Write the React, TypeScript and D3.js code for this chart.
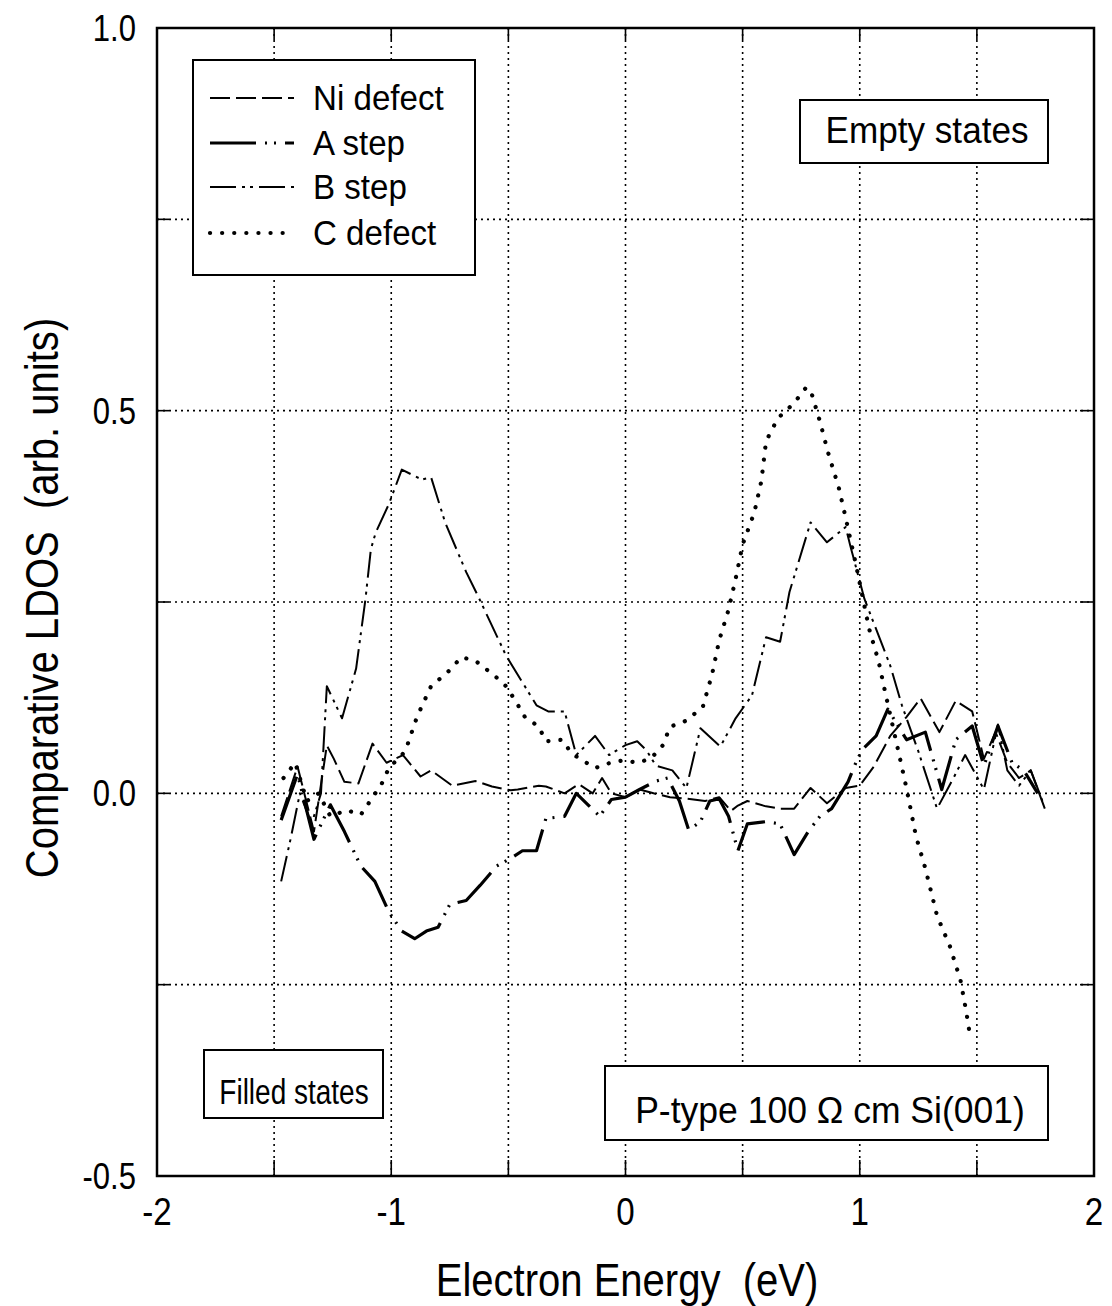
import React from "react";
import * as d3 from "d3";

// ---------- data ----------
const niX = [-1.47, -1.40, -1.33, -1.275, -1.245, -1.2, -1.14, -1.08, -1.02, -0.95, -0.875, -0.83, -0.74, -0.64, -0.57, -0.49, -0.46, -0.37, -0.34, -0.26, -0.2, -0.14, -0.1, -0.06, 0.0, 0.06, 0.12, 0.19, 0.26, 0.34, 0.4, 0.45, 0.48, 0.52, 0.6, 0.66, 0.72, 0.79, 0.86, 0.94, 1.0, 1.06, 1.13, 1.2, 1.26, 1.34, 1.41, 1.48, 1.53, 1.58, 1.63, 1.68, 1.73, 1.79];
const niY = [-0.03, 0.035, -0.05, 0.0625, 0.045, 0.015, 0.013, 0.065, 0.04, 0.05, 0.022, 0.03, 0.01, 0.016, 0.009, 0.004, 0.005, 0.01, 0.009, 0.0, 0.012, 0.0, 0.02, 0.0, -0.005, 0.005, 0.0, -0.005, -0.007, -0.01, -0.005, -0.023, -0.016, -0.01, -0.017, -0.02, -0.02, 0.007, -0.013, 0.007, 0.01, 0.035, 0.075, 0.1, 0.124, 0.08, 0.121, 0.107, 0.045, 0.08, 0.04, 0.02, 0.03, -0.02];

const aX = [-1.47, -1.40, -1.33, -1.26, -1.2, -1.13, -1.07, -1.01, -0.955, -0.9, -0.85, -0.8, -0.75, -0.68, -0.62, -0.55, -0.49, -0.44, -0.38, -0.34, -0.26, -0.21, -0.16, -0.11, -0.06, 0.0, 0.06, 0.13, 0.18, 0.23, 0.27, 0.32, 0.36, 0.4, 0.44, 0.48, 0.52, 0.6, 0.66, 0.72, 0.78, 0.83, 0.88, 0.95, 0.99, 1.02, 1.07, 1.12, 1.2, 1.28, 1.35, 1.41, 1.48, 1.53, 1.59, 1.65, 1.7, 1.76];
const aY = [-0.035, 0.025, -0.06, -0.015, -0.05, -0.095, -0.115, -0.155, -0.18, -0.19, -0.18, -0.175, -0.145, -0.14, -0.12, -0.095, -0.085, -0.075, -0.075, -0.033, -0.03, 0.0, -0.015, -0.03, -0.008, -0.005, 0.005, 0.016, 0.02, -0.01, -0.048, -0.037, -0.01, -0.007, -0.03, -0.075, -0.04, -0.037, -0.04, -0.08, -0.05, -0.03, -0.02, 0.015, 0.045, 0.06, 0.075, 0.11, 0.07, 0.08, 0.005, 0.07, 0.088, 0.036, 0.088, 0.04, 0.03, 0.0];

const bX = [-1.47, -1.43, -1.39, -1.34, -1.3, -1.275, -1.21, -1.15, -1.11, -1.087, -1.066, -1.01, -0.955, -0.87, -0.83, -0.77, -0.68, -0.63, -0.51, -0.38, -0.33, -0.26, -0.21, -0.13, -0.07, 0.0, 0.05, 0.09, 0.13, 0.2, 0.26, 0.32, 0.405, 0.47, 0.54, 0.6, 0.66, 0.7, 0.79, 0.86, 0.94, 0.96, 1.02, 1.13, 1.18, 1.25, 1.33, 1.4, 1.45, 1.53, 1.59, 1.63, 1.68, 1.73, 1.78];
const bY = [-0.115, -0.06, 0.0, -0.04, 0.0, 0.14, 0.098, 0.163, 0.254, 0.319, 0.341, 0.378, 0.423, 0.41, 0.413, 0.354, 0.289, 0.258, 0.18, 0.115, 0.107, 0.107, 0.05, 0.075, 0.05, 0.063, 0.068, 0.056, 0.036, 0.03, 0.007, 0.085, 0.061, 0.098, 0.128, 0.204, 0.198, 0.263, 0.354, 0.328, 0.348, 0.323, 0.254, 0.167, 0.115, 0.055, -0.02, 0.02, 0.05, 0.005, 0.09, 0.03, 0.01, 0.03, -0.01];

const cX = [-1.46, -1.41, -1.36, -1.31, -1.26, -1.19, -1.13, -1.09, -1.04, -1.01, -0.94, -0.89, -0.83, -0.76, -0.7, -0.64, -0.56, -0.51, -0.47, -0.43, -0.37, -0.34, -0.27, -0.23, -0.13, -0.064, -0.01, 0.055, 0.11, 0.16, 0.19, 0.26, 0.33, 0.37, 0.4, 0.44, 0.47, 0.5, 0.55, 0.58, 0.6, 0.65, 0.72, 0.77, 0.79, 0.83, 0.865, 0.91, 0.94, 0.985, 1.04, 1.08, 1.11, 1.17, 1.2, 1.24, 1.28, 1.33, 1.385, 1.43, 1.455, 1.47];
const cY = [0.02, 0.04, -0.01, 0.0, -0.03, -0.022, -0.028, -0.01, 0.013, 0.033, 0.055, 0.1, 0.14, 0.158, 0.178, 0.173, 0.154, 0.14, 0.121, 0.1, 0.087, 0.068, 0.07, 0.052, 0.033, 0.04, 0.043, 0.04, 0.046, 0.063, 0.087, 0.095, 0.113, 0.156, 0.2, 0.24, 0.28, 0.325, 0.367, 0.408, 0.46, 0.49, 0.51, 0.53, 0.527, 0.486, 0.445, 0.4, 0.36, 0.297, 0.215, 0.173, 0.13, 0.048, 0.006, -0.056, -0.098, -0.16, -0.2, -0.244, -0.286, -0.315];

const seriesNames = ["Ni defect", "A step", "B step", "C defect"];
const xTicks = [-2, -1, 0, 1, 2];
const xGrid = [-1.5, -1, -0.5, 0, 0.5, 1, 1.5];
const yTicks = [-0.5, 0, 0.5, 1];
const yTickLabels = ["-0.5", "0.0", "0.5", "1.0"];
const yGrid = [-0.25, 0, 0.25, 0.5, 0.75];

const FONT = "'Liberation Sans', Arial, Helvetica, sans-serif";

const styles = [
  { dash: "20,6", width: 2 },
  { dash: "46,9,2,7,2,9", width: 3.2 },
  { dash: "26,6,3,5,3,6", width: 2 },
  { dash: "0.1,12", width: 4.2 },
];

export default function App() {
  const W = 1112, H = 1306;
  const L = 157, R = 1094, T = 28, B = 1176;
  const x = d3.scaleLinear().domain([-2, 2]).range([L, R]);
  const y = d3.scaleLinear().domain([-0.5, 1]).range([B, T]);
  const line = d3.line<[number, number]>().x(d => x(d[0])).y(d => y(d[1]));
  const data: [number, number][][] = [
    niX.map((v, i) => [v, niY[i]]),
    aX.map((v, i) => [v, aY[i]]),
    bX.map((v, i) => [v, bY[i]]),
    cX.map((v, i) => [v, cY[i]]),
  ];
  const legendRows = [98, 143, 187, 233];

  return (
    <svg width={W} height={H} style={{ position: "absolute", left: 0, top: 0, background: "#fff" }} fontFamily={FONT}>
      <rect x={0} y={0} width={W} height={H} fill="#fff" />
      {/* grid */}
      {yGrid.map(v => (
        <line key={"gy" + v} x1={L} x2={R} y1={y(v)} y2={y(v)} stroke="#000" strokeWidth={1.6} strokeDasharray="2,4" />
      ))}
      {xGrid.map(v => (
        <line key={"gx" + v} x1={x(v)} x2={x(v)} y1={T} y2={B} stroke="#000" strokeWidth={1.6} strokeDasharray="2,4" />
      ))}
      {/* ticks */}
      {yGrid.map(v => (
        <g key={"ty" + v}>
          <line x1={L} x2={L + 12} y1={y(v)} y2={y(v)} stroke="#000" strokeWidth={1.6} />
          <line x1={R - 14} x2={R} y1={y(v)} y2={y(v)} stroke="#000" strokeWidth={1.6} />
        </g>
      ))}
      {xGrid.map(v => (
        <g key={"tx" + v}>
          <line x1={x(v)} x2={x(v)} y1={B - 16} y2={B} stroke="#000" strokeWidth={1.6} />
          <line x1={x(v)} x2={x(v)} y1={T} y2={T + 12} stroke="#000" strokeWidth={1.6} />
        </g>
      ))}
      {/* curves */}
      {data.map((d, i) => (
        <path key={"s" + i} d={line(d) || ""} fill="none" stroke="#000" strokeWidth={styles[i].width}
          strokeDasharray={styles[i].dash} strokeLinecap={i === 3 ? "round" : "butt"} strokeLinejoin="round" />
      ))}
      {/* frame */}
      <rect x={L} y={T} width={R - L} height={B - T} fill="none" stroke="#000" strokeWidth={2.5} />
      {/* y tick labels */}
      {yTicks.map((v, i) => (
        <g key={"yl" + v} transform={`translate(136,${y(v) + 13}) scale(0.84,1)`}>
          <text x={0} y={0} fontSize={37} textAnchor="end">{yTickLabels[i]}</text>
        </g>
      ))}
      {/* x tick labels */}
      {xTicks.map(v => (
        <g key={"xl" + v} transform={`translate(${x(v)},${1225}) scale(0.85,1)`}>
          <text x={0} y={0} fontSize={39} textAnchor="middle">{String(v)}</text>
        </g>
      ))}
      {/* axis titles */}
      <g transform="translate(627,1296) scale(0.87,1)">
        <text x={0} y={0} fontSize={46} textAnchor="middle" style={{ whiteSpace: "pre" }}>{"Electron Energy  (eV)"}</text>
      </g>
      <g transform="translate(58,598) rotate(-90) scale(0.87,1)">
        <text x={0} y={0} fontSize={46} textAnchor="middle" style={{ whiteSpace: "pre" }}>{"Comparative LDOS  (arb. units)"}</text>
      </g>
      {/* legend */}
      <rect x={193} y={60} width={282} height={215} fill="#fff" stroke="#000" strokeWidth={2} />
      {seriesNames.map((n, i) => (
        <g key={"lg" + i}>
          <line x1={210} x2={294} y1={legendRows[i]} y2={legendRows[i]} stroke="#000" strokeWidth={styles[i].width}
            strokeDasharray={styles[i].dash} strokeLinecap={i === 3 ? "round" : "butt"} />
          <g transform={`translate(313,${legendRows[i] + 12}) scale(0.92,1)`}>
            <text x={0} y={0} fontSize={36}>{n}</text>
          </g>
        </g>
      ))}
      {/* annotations */}
      <rect x={800} y={100} width={248} height={63} fill="#fff" stroke="#000" strokeWidth={2} />
      <g transform="translate(927,143) scale(0.95,1)">
        <text x={0} y={0} fontSize={37} textAnchor="middle">Empty states</text>
      </g>
      <rect x={204} y={1050} width={179} height={68} fill="#fff" stroke="#000" strokeWidth={2} />
      <g transform="translate(294,1104) scale(0.8,1)">
        <text x={0} y={0} fontSize={35} textAnchor="middle">Filled states</text>
      </g>
      <rect x={605} y={1066} width={443} height={74} fill="#fff" stroke="#000" strokeWidth={2} />
      <g transform="translate(830,1123) scale(0.96,1)">
        <text x={0} y={0} fontSize={37} textAnchor="middle">P-type 100 Ω cm Si(001)</text>
      </g>
    </svg>
  );
}
